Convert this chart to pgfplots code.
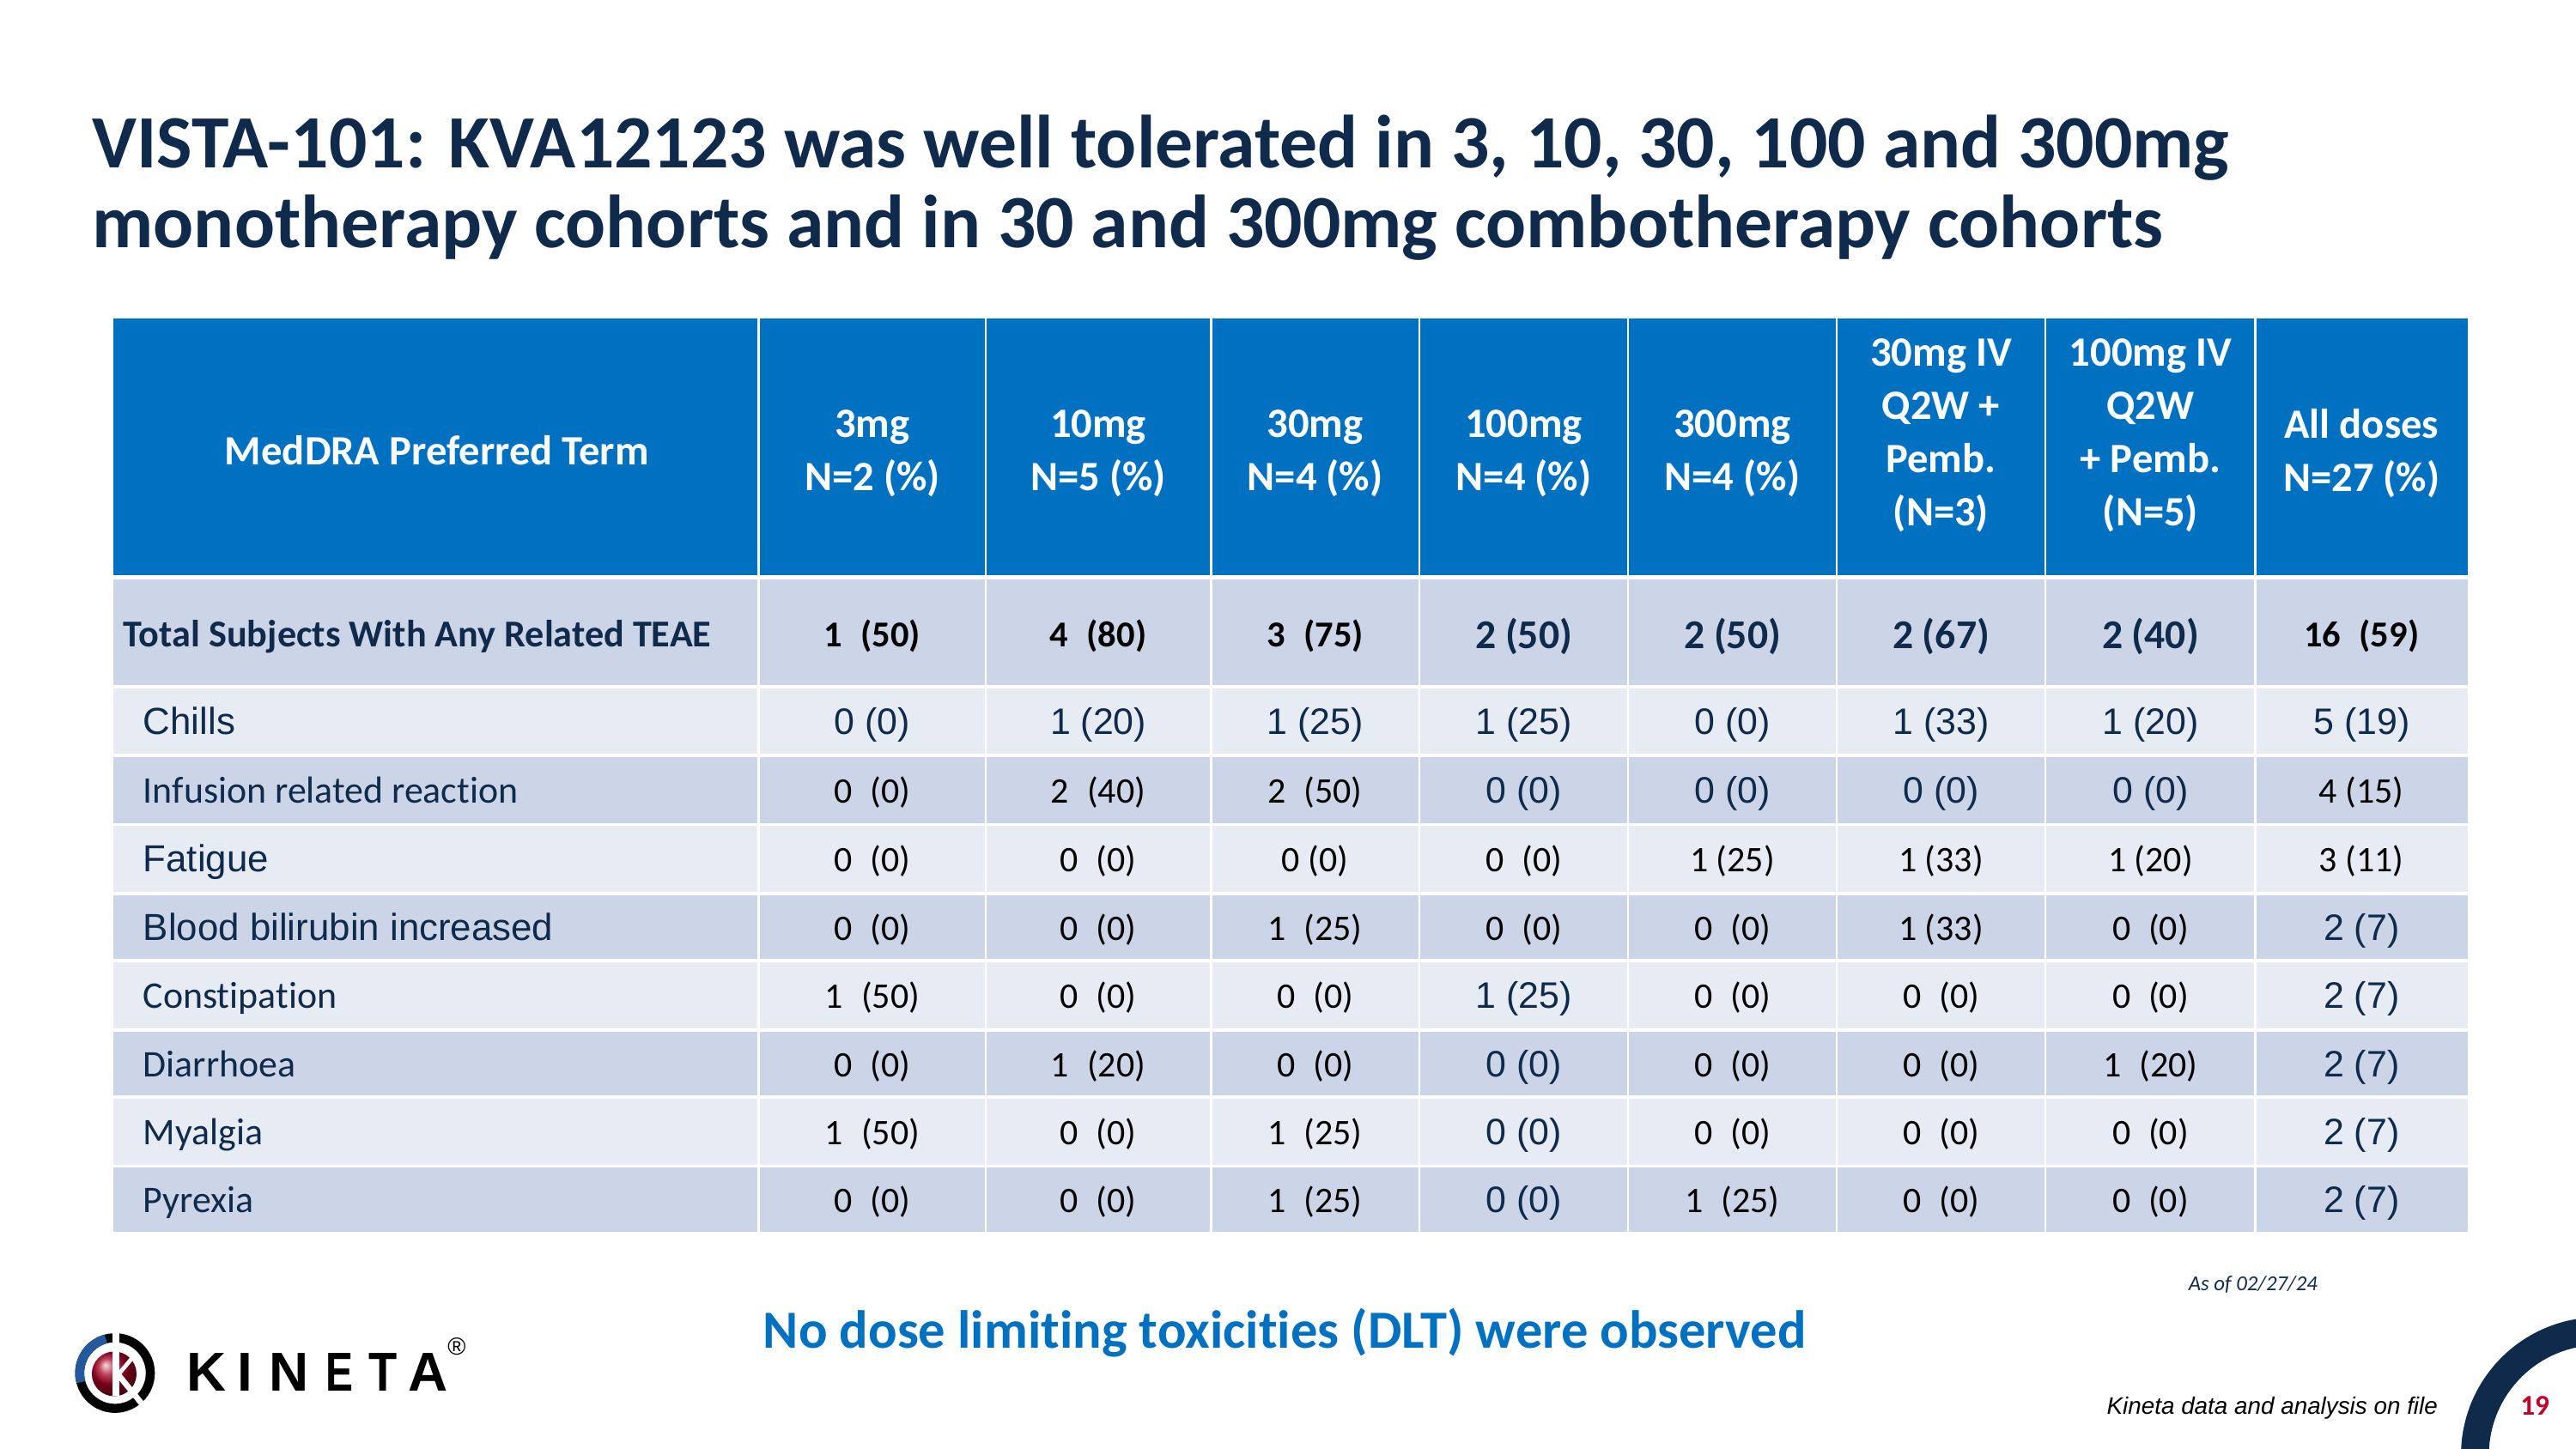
\documentclass[border=0pt]{standalone}
\usepackage{fontspec}
\setmainfont{Carlito}[Ligatures=NoCommon]
\newfontfamily\arial{Liberation Sans}
\usepackage{pgfplots}
\pgfplotsset{compat=1.18}
\definecolor{navy}{HTML}{0F2A4A}
\definecolor{hdr}{HTML}{0070C0}
\definecolor{rowd}{HTML}{CCD5E7}
\definecolor{rowl}{HTML}{E7EBF3}
\definecolor{kred}{HTML}{C0002B}
\definecolor{kblue}{HTML}{24599E}
\newcommand{\fs}[1]{\fontsize{#1}{#1}\selectfont}
\pgfplotsset{
  txt/.style={draw=none, mark=none, point meta=explicit symbolic, nodes near coords,
    every node near coord/.append style={inner sep=0pt, anchor=base, #1}},
}
\begin{document}
\begin{tikzpicture}
\useasboundingbox (0,0) rectangle (1568bp,882bp);
\begin{axis}[at={(0,0)}, anchor=south west, scale only axis, width=1568bp, height=882bp,
  xmin=0, xmax=1568, ymin=0, ymax=882, y dir=reverse, axis lines=none, clip=false]
% title
\node[anchor=base west, inner sep=0pt, font=\bfseries\fs{46}, text=navy] at (56,102) {VISTA-101: KVA12123 was well tolerated in 3, 10, 30, 100 and 300mg};
\node[anchor=base west, inner sep=0pt, font=\bfseries\fs{46}, text=navy] at (56,151) {monotherapy cohorts and in 30 and 300mg combotherapy cohorts};
% table backgrounds
\fill[hdr] (69,194) rectangle (1502,350);
\fill[rowd] (69,353) rectangle (1502,417);
\fill[rowl] (69,419) rectangle (1502,459);
\fill[rowd] (69,461) rectangle (1502,501);
\fill[rowl] (69,503) rectangle (1502,543);
\fill[rowd] (69,545) rectangle (1502,584);
\fill[rowl] (69,586) rectangle (1502,626);
\fill[rowd] (69,628) rectangle (1502,667);
\fill[rowl] (69,669) rectangle (1502,709);
\fill[rowd] (69,711) rectangle (1502,750);
\pgfplotsinvokeforeach{462,600,737,864,991,1118,1245,1373}{
  \draw[white, line width=1.5bp] (#1,194) -- (#1,750);
}
% header
\begin{scope}[every node/.style={text=white, align=center, inner sep=0pt, font=\bfseries\fontsize{25.5}{32.5}\selectfont}]
\node at (266,274) {MedDRA Preferred Term};
\node at (531,276) {3mg\\N=2 (\%)};
\node at (668.5,276) {10mg\\N=5 (\%)};
\node at (800.5,276) {30mg\\N=4 (\%)};
\node at (927.5,276) {100mg\\N=4 (\%)};
\node at (1054.5,276) {300mg\\N=4 (\%)};
\node at (1181.5,265) {30mg IV\\Q2W +\\Pemb.\\(N=3)};
\node at (1309,265) {100mg IV\\Q2W\\+ Pemb.\\(N=5)};
\node at (1437.5,276) {All doses\\N=27 (\%)};
\end{scope}
% row labels
\addplot[txt={anchor=base west, font=\bfseries\fs{23.2}, text=navy}] coordinates {
 (75,394) [Total Subjects With Any Related TEAE]
};
\addplot[txt={anchor=base west, font=\fs{23}, text=navy}] coordinates {
 (87,489) [Infusion related reaction]
 (87,614) [Constipation]
 (87,655.5) [Diarrhoea]
 (87,697) [Myalgia]
 (87,738.5) [Pyrexia]
};
\addplot[txt={anchor=base west, font=\arial\fs{23}, text=navy}] coordinates {
 (87,447) [Chills]
 (87,531) [Fatigue]
 (87,572.5) [Blood bilirubin increased]
};
% total row values
\addplot[txt={font=\bfseries\fs{22.3}, text=black}] coordinates {
 (531,394) [1\enspace(50)]
 (668.5,394) [4\enspace(80)]
 (800.5,394) [3\enspace(75)]
 (1437.5,394) [16\enspace(59)]
};
\addplot[txt={font=\bfseries\fs{25}, text=navy}] coordinates {
 (927.5,395) [2 (50)]
 (1054.5,395) [2 (50)]
 (1181.5,395) [2 (67)]
 (1309,395) [2 (40)]
};
% navy Arial values
\addplot[txt={font=\arial\fs{22.5}, text=navy}] coordinates {
 (531,447) [0 (0)]
 (668.5,447) [1 (20)]
 (800.5,447) [1 (25)]
 (927.5,447) [1 (25)]
 (1054.5,447) [0 (0)]
 (1181.5,447) [1 (33)]
 (1309,447) [1 (20)]
 (1437.5,447) [5 (19)]
 (927.5,489) [0 (0)]
 (1054.5,489) [0 (0)]
 (1181.5,489) [0 (0)]
 (1309,489) [0 (0)]
 (1437.5,572.5) [2 (7)]
 (927.5,614) [1 (25)]
 (1437.5,614) [2 (7)]
 (927.5,655.5) [0 (0)]
 (1437.5,655.5) [2 (7)]
 (927.5,697) [0 (0)]
 (1437.5,697) [2 (7)]
 (927.5,738.5) [0 (0)]
 (1437.5,738.5) [2 (7)]
};
% black Calibri values
\addplot[txt={font=\fs{22}, text=black}] coordinates {
 (531,489) [0\enspace(0)]
 (668.5,489) [2\enspace(40)]
 (800.5,489) [2\enspace(50)]
 (1437.5,489) [4 (15)]
 (531,531) [0\enspace(0)]
 (668.5,531) [0\enspace(0)]
 (800.5,531) [0 (0)]
 (927.5,531) [0\enspace(0)]
 (1054.5,531) [1 (25)]
 (1181.5,531) [1 (33)]
 (1309,531) [1 (20)]
 (1437.5,531) [3 (11)]
 (531,572.5) [0\enspace(0)]
 (668.5,572.5) [0\enspace(0)]
 (800.5,572.5) [1\enspace(25)]
 (927.5,572.5) [0\enspace(0)]
 (1054.5,572.5) [0\enspace(0)]
 (1181.5,572.5) [1 (33)]
 (1309,572.5) [0\enspace(0)]
 (531,614) [1\enspace(50)]
 (668.5,614) [0\enspace(0)]
 (800.5,614) [0\enspace(0)]
 (1054.5,614) [0\enspace(0)]
 (1181.5,614) [0\enspace(0)]
 (1309,614) [0\enspace(0)]
 (531,655.5) [0\enspace(0)]
 (668.5,655.5) [1\enspace(20)]
 (800.5,655.5) [0\enspace(0)]
 (1054.5,655.5) [0\enspace(0)]
 (1181.5,655.5) [0\enspace(0)]
 (1309,655.5) [1\enspace(20)]
 (531,697) [1\enspace(50)]
 (668.5,697) [0\enspace(0)]
 (800.5,697) [1\enspace(25)]
 (1054.5,697) [0\enspace(0)]
 (1181.5,697) [0\enspace(0)]
 (1309,697) [0\enspace(0)]
 (531,738.5) [0\enspace(0)]
 (668.5,738.5) [0\enspace(0)]
 (800.5,738.5) [1\enspace(25)]
 (1054.5,738.5) [1\enspace(25)]
 (1181.5,738.5) [0\enspace(0)]
 (1309,738.5) [0\enspace(0)]
};
% footer
\node[anchor=base west, inner sep=0pt, font=\itshape\fs{13}, text=navy] at (1332,786) {As of 02/27/24};
\node[anchor=base, inner sep=0pt, font=\bfseries\fs{32.8}, text=hdr] at (782,821) {No dose limiting toxicities (DLT) were observed};
\node[anchor=base east, inner sep=0pt, font=\arial\itshape\fs{14.6}, text=black] at (1484,861) {Kineta data and analysis on file};
\begin{scope}
\clip (0,0) rectangle (1568,882);
\draw[navy, line width=17bp] (1582,886) circle (75.5bp);
\end{scope}
\node[anchor=base, inner sep=0pt, font=\bfseries\fs{17.5}, text=kred] at (1543,861.5) {19};
% logo
\draw[black, line width=5.5bp] (70,836) circle (21.5bp);
\draw[line width=5.5bp, color=kblue] ([shift={(105:21.5bp)}]70,836) arc (105:195:21.5bp);
\shade[ball color=kred!90!black] (69.5,836.5) circle (13.6bp);
\draw[white, line width=4.5bp] (70.5,808) -- (70.5,850);
\draw[white, line width=2.5bp] (72,837) -- (82,825);
\draw[white, line width=3.5bp] (72,837) -- (89,858);
\node[anchor=base, inner sep=0pt, font=\arial\bfseries\fs{33.5}, text=black] at (125.5,847) {K};
\node[anchor=base, inner sep=0pt, font=\arial\bfseries\fs{33.5}, text=black] at (149,847) {I};
\node[anchor=base, inner sep=0pt, font=\arial\bfseries\fs{33.5}, text=black] at (176,847) {N};
\node[anchor=base, inner sep=0pt, font=\arial\bfseries\fs{33.5}, text=black, xscale=0.75] at (206.5,847) {E};
\node[anchor=base, inner sep=0pt, font=\arial\bfseries\fs{33.5}, text=black, xscale=0.85] at (233,847) {T};
\node[anchor=base, inner sep=0pt, font=\arial\bfseries\fs{33.5}, text=black] at (260.5,847) {A};
\node[anchor=center, inner sep=0pt, font=\arial\fs{15}, text=black] at (278,820) {®};
\end{axis}
\end{tikzpicture}
\end{document}
